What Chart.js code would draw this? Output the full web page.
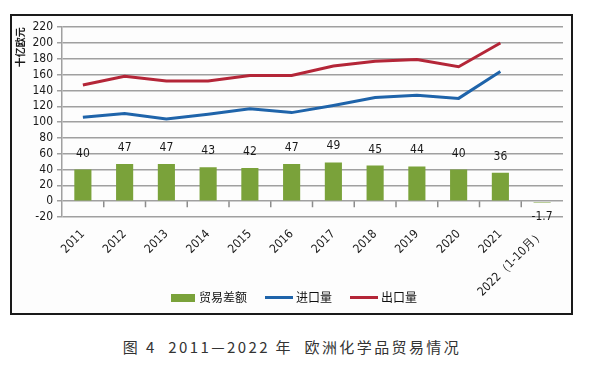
<!DOCTYPE html>
<html>
<head>
<meta charset="utf-8">
<script src="https://cdn.jsdelivr.net/npm/chart.js@4.4.1/dist/chart.umd.min.js"></script>
<style>
	body{margin:0;background:#fff;width:604px;height:367px;position:relative;overflow:hidden;}
	#box{position:absolute;left:10px;top:14px;width:563px;height:301px;box-sizing:border-box;border:2px solid #1a1a1a;background:#fdfdfd;}
	#legend{position:absolute;left:171px;top:289px;height:16px;white-space:nowrap;font-family:"Noto Sans CJK SC";font-size:12px;line-height:16px;color:#111;}
	#legend .item{display:inline-block;margin-right:18px;}
	#legend .sw{display:inline-block;width:24px;vertical-align:middle;margin-right:4px;position:relative;top:-1px;}
	#cap{position:absolute;left:0;top:336px;width:584px;text-align:center;font-family:"Noto Sans CJK SC";font-size:15px;color:#333;letter-spacing:2.4px;}
</style>
</head>
<body>
	<div id="box"><canvas id="myChart" width="559" height="297"></canvas></div>
	<div id="legend"></div>
	<div id="cap">图 4&nbsp; 2011—2022 年&nbsp; 欧洲化学品贸易情况</div>
<script>
	var years = ["2011","2012","2013","2014","2015","2016","2017","2018","2019","2020","2021","2022（1-10月）"];
	var tradeBalance = [40,47,47,43,42,47,49,45,44,40,36,-1.7];
	var importVol = [106,111,104,110,117,112,121,131,134,130,164,null];
	var exportVol = [147,158,152,152,159,159,171,177,179,170,200,null];
	var numFont = "'Liberation Sans Narrow','DejaVu Sans Condensed','Liberation Sans',sans-serif";
	var cjkFont = "'Noto Sans CJK SC',sans-serif";

	// 柱子上的数值
	var barLabels = {
		id:"barLabels",
		afterDatasetsDraw:function(chart){
			var ctx = chart.ctx;
			var meta = chart.getDatasetMeta(0);
			ctx.save();
			ctx.font = "12px " + numFont;
			ctx.fillStyle = "#1a1a1a";
			ctx.textAlign = "center";
			for(var i = 0;i<meta.data.length;i++){
				var bar = meta.data[i];
				var v = tradeBalance[i];
				if(v>=0){
					ctx.textBaseline = "alphabetic";
					ctx.fillText(v, bar.x, bar.y-13);
				}else{
					ctx.textBaseline = "top";
					ctx.fillText(v, bar.x, bar.base+9);
				}
			}
			ctx.restore();
		}
	};
	// 0 线上的刻度
	var zeroTicks = {
		id:"zeroTicks",
		afterDraw:function(chart){
			var ctx = chart.ctx;
			var x = chart.scales.x;
			var y0 = chart.scales.y.getPixelForValue(0);
			ctx.save();
			ctx.strokeStyle = "#8c8c8c";
			ctx.lineWidth = 1.5;
			ctx.beginPath();
			for(var i = 0;i<years.length-1;i++){
				var bx = (x.getPixelForTick(i)+x.getPixelForTick(i+1))/2;
				ctx.moveTo(bx, y0);
				ctx.lineTo(bx, y0+6);
			}
			ctx.stroke();
			ctx.restore();
		}
	};

	var chart = new Chart(document.getElementById("myChart"),{
		type:"bar",
		data:{
			labels:years,
			datasets:[{
				type:"bar",
				label:"贸易差额",
				data:tradeBalance,
				backgroundColor:"#7aa23a",
				barPercentage:0.41,
				categoryPercentage:1,
				order:2
			},{
				type:"line",
				label:"进口量",
				data:importVol,
				borderColor:"#1f64aa",
				backgroundColor:"#1f64aa",
				borderWidth:3,
				pointRadius:0,
				tension:0,
				order:1
			},{
				type:"line",
				label:"出口量",
				data:exportVol,
				borderColor:"#b42638",
				backgroundColor:"#b42638",
				borderWidth:3,
				pointRadius:0,
				tension:0,
				order:0
			}]
		},
		options:{
			responsive:false,
			animation:false,
			layout:{padding:{top:10,right:8,left:0,bottom:0}},
			plugins:{
				tooltip:{enabled:false},
				legend:{display:false}
			},
			scales:{
				x:{
					offset:true,
					grid:{display:false},
					border:{display:false},
					ticks:{
						autoSkip:false,
						maxRotation:45,
						minRotation:45,
						padding:2,
						color:"#1a1a1a",
						font:{family:numFont,size:12}
					},
					afterFit:function(s){ s.height = 96; }
				},
				y:{
					min:-20,
					max:220,
					ticks:{
						stepSize:20,
						autoSkip:false,
						padding:4,
						color:"#1a1a1a",
						font:{family:numFont,size:12}
					},
					grid:{color:"#a0a0a0",lineWidth:1.5,tickLength:5},
					border:{color:"#a0a0a0",width:1.5},
					title:{
						display:true,
						text:"十亿欧元",
						align:"end",
						color:"#1a1a1a",
						font:{family:cjkFont,size:10,weight:"bold"},
						padding:{top:2,bottom:2}
					},
					afterFit:function(s){ s.width = 50; }
				}
			}
		},
		plugins:[barLabels,zeroTicks]
	});

	// 图例
	var legendHtml = "";
	chart.data.datasets.forEach(function(ds){
		var sw;
		if(ds.type=="bar"){
			sw = "<span class=\"sw\" style=\"height:8px;background:"+ds.backgroundColor+"\"></span>";
		}else{
			sw = "<span class=\"sw\" style=\"width:28px;height:3px;margin-right:3px;background:"+ds.borderColor+"\"></span>";
		}
		legendHtml += "<span class=\"item\">"+sw+ds.label+"</span>";
	});
	document.getElementById("legend").innerHTML = legendHtml;
</script>
</body>
</html>
